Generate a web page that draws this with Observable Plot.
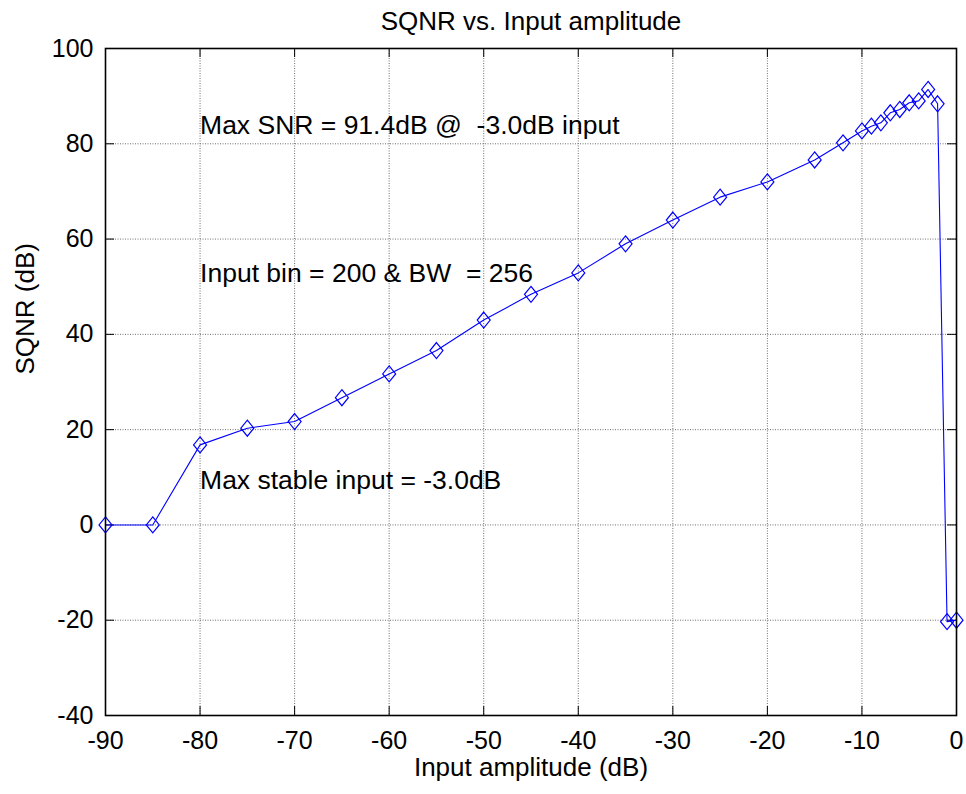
<!DOCTYPE html>
<html>
<head>
<meta charset="utf-8">
<script src="https://cdn.jsdelivr.net/npm/d3@7"></script>
<script src="https://cdn.jsdelivr.net/npm/@observablehq/plot@0.6"></script>
<style>
  html, body { margin: 0; padding: 0; background: #fff; }
  #chart { width: 966px; height: 794px; }
  #chart text { white-space: pre; }
</style>
</head>
<body>
<div id="chart"></div>
<script>
// ---- Data ----
const inputAmplitude = [-90, -85, -80, -75, -70, -65, -60, -55, -50, -45, -40, -35, -30, -25, -20, -15, -12, -10, -9, -8, -7, -6, -5, -4, -3, -2, -1, 0];
const sqnr = [0, 0, 16.8, 20.3, 21.7, 26.7, 31.7, 36.6, 43.0, 48.4, 52.9, 59.0, 64.0, 68.8, 72.0, 76.6, 80.2, 82.7, 83.7, 84.4, 86.5, 87.2, 88.6, 89.0, 91.4, 88.4, -20.3, -20.0];

const xTicks = [-90, -80, -70, -60, -50, -40, -30, -20, -10, 0];
const yTicks = [-40, -20, 0, 20, 40, 60, 80, 100];

const annotationTexts = ["Max SNR = 91.4dB @  -3.0dB input", "Input bin = 200 & BW  = 256", "Max stable input = -3.0dB"];
const annotationX = [-80, -80, -80];
const annotationY = [83.8, 52.8, 9.4];

const titleText = "SQNR vs. Input amplitude";
const xLabel = "Input amplitude (dB)";
const yLabel = "SQNR (dB)";

// ---- Build tables ----
const points = inputAmplitude.map((x, i) => ({x, y: sqnr[i]}));
const annotations = annotationTexts.map((t, i) => ({text: t, x: annotationX[i], y: annotationY[i]}));

// Taller-than-wide diamond (MATLAB 'd' marker look)
const tallDiamond = {
  draw(context, size) {
    const r = Math.sqrt(size / Math.PI);
    const w = r, h = r * 1.23;
    context.moveTo(0, -h);
    context.lineTo(w, 0);
    context.lineTo(0, h);
    context.lineTo(-w, 0);
    context.closePath();
  }
};

const W = 966, H = 794, mL = 105, mR = 10, mT = 48, mB = 79;
const plotW = W - mL - mR, plotH = H - mT - mB;
const tickLen = 9;
const blue = "#0000ff";
const font = "'Liberation Sans', Arial, Helvetica, sans-serif";

const chart = Plot.plot({
  width: W,
  height: H,
  marginLeft: mL,
  marginRight: mR,
  marginTop: mT,
  marginBottom: mB,
  style: {fontFamily: font, fontSize: "25px", background: "#fff", color: "#000"},
  x: {domain: [-90, 0]},
  y: {domain: [-40, 100]},
  marks: [
    // dotted grid
    Plot.ruleX(xTicks, {x: d => d, stroke: "#6e6e6e", strokeWidth: 1, strokeDasharray: "1,1.5"}),
    Plot.ruleY(yTicks, {y: d => d, stroke: "#6e6e6e", strokeWidth: 1, strokeDasharray: "1,1.5"}),
    // inward ticks on all four sides
    Plot.tickX(xTicks, {x: d => d, insetTop: plotH - tickLen, stroke: "#000"}),
    Plot.tickX(xTicks, {x: d => d, insetBottom: plotH - tickLen, stroke: "#000"}),
    Plot.tickY(yTicks, {y: d => d, insetRight: plotW - tickLen, stroke: "#000"}),
    Plot.tickY(yTicks, {y: d => d, insetLeft: plotW - tickLen, stroke: "#000"}),
    // series
    Plot.line(points, {x: "x", y: "y", stroke: blue, strokeWidth: 1.1}),
    Plot.dot(points, {x: "x", y: "y", symbol: tallDiamond, r: 6.5, stroke: blue, strokeWidth: 1.2, fill: "none"}),
    // frame
    Plot.frame({stroke: "#000", strokeWidth: 1.6}),
    // axes
    Plot.axisX({ticks: xTicks, tickFormat: d => String(d), tickSize: 0, tickPadding: 16, label: null, fontSize: 25}),
    Plot.axisY({ticks: yTicks, tickFormat: d => String(d), tickSize: 0, tickPadding: 12, label: null, fontSize: 25}),
    // annotations
    Plot.text(annotations, {x: "x", y: "y", text: "text", textAnchor: "start", lineAnchor: "middle", fontSize: 26.5, fill: "#000"}),
    // title and axis labels
    Plot.text([titleText], {frameAnchor: "top", dy: -27, lineAnchor: "middle", fontSize: 26, fill: "#000"}),
    Plot.text([xLabel], {frameAnchor: "bottom", dy: 51.7, lineAnchor: "middle", fontSize: 26, fill: "#000"}),
    Plot.text([yLabel], {frameAnchor: "left", rotate: -90, dx: -80.3, dy: -7.5, lineAnchor: "middle", fontSize: 26, fill: "#000"})
  ]
});

document.getElementById("chart").appendChild(chart);
</script>
</body>
</html>
